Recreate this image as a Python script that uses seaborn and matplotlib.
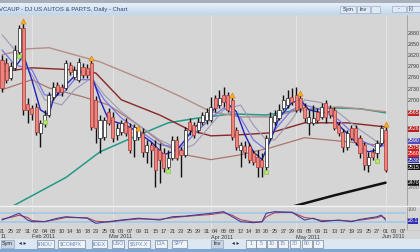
import matplotlib
matplotlib.use("Agg")
import matplotlib.pyplot as plt
import matplotlib.transforms as mtransforms
from matplotlib.colors import LinearSegmentedColormap
from matplotlib.lines import Line2D
from matplotlib.patches import Rectangle
import numpy as np
import seaborn as sns

sns.set_theme(style="white")
plt.rcParams['font.family'] = ['Liberation Sans', 'DejaVu Sans']

# ---------------- data ----------------
title = "VCAUP - DJ US AUTOS & PARTS, Daily - Chart"

# trading-day numbers (Jan 21 .. Jun 07 2011)
day_numbers = [21, 24, 25, 26, 27, 28, 31,
               1, 2, 3, 4, 7, 8, 9, 10, 11, 14, 15, 16, 17, 18, 22, 23, 24, 25, 28,
               1, 2, 3, 4, 7, 8, 9, 10, 11, 14, 15, 16, 17, 18, 21, 22, 23, 24, 25, 28, 29, 30, 31,
               1, 4, 5, 6, 7, 8, 11, 12, 13, 14, 15, 18, 19, 20, 21, 25, 26, 27, 28, 29,
               2, 3, 4, 5, 6, 9, 10, 11, 12, 13, 16, 17, 18, 19, 20, 23, 24, 25, 26, 27, 31,
               1, 2, 3, 6, 7]
month_label_pos = [0.5, 8, 26, 50, 70, 90]
month_labels = ["11", "Feb 2011", "Mar 2011", "Apr 2011", "May 2011", "Jun 2011"]
month_start_pos = [7, 26, 49, 69, 90]

opens = [2807, 2799, 2759, 2786, 2829, 2893, 2689, 2678, 2681, 2611, 2635, 2659, 2708, 2740, 2735,
         2732, 2794, 2762, 2754, 2789, 2786, 2799, 2700, 2598, 2600, 2668, 2654, 2606, 2614, 2641,
         2627, 2592, 2600, 2611, 2560, 2579, 2573, 2565, 2557, 2520, 2544, 2592, 2565, 2552, 2641,
         2632, 2619, 2641, 2646, 2646, 2705, 2686, 2713, 2713, 2700, 2619, 2565, 2576, 2576, 2557,
         2547, 2539, 2520, 2598, 2641, 2651, 2678, 2686, 2708, 2713, 2705, 2681, 2638, 2638, 2668,
         2654, 2692, 2678, 2673, 2632, 2614, 2573, 2624, 2624, 2598, 2579, 2525, 2560, 2557, 2584, 2619]
closes = [2732, 2754, 2791, 2834, 2893, 2673, 2673, 2662, 2614, 2638, 2659, 2713, 2735, 2721, 2721,
          2799, 2775, 2781, 2802, 2767, 2767, 2627, 2624, 2646, 2646, 2638, 2598, 2624, 2638, 2611,
          2565, 2627, 2619, 2560, 2579, 2565, 2512, 2539, 2517, 2544, 2592, 2544, 2552, 2619, 2619,
          2606, 2641, 2659, 2668, 2681, 2678, 2705, 2694, 2673, 2600, 2573, 2579, 2560, 2539, 2533,
          2520, 2520, 2598, 2654, 2659, 2673, 2700, 2705, 2694, 2673, 2678, 2651, 2654, 2651, 2646,
          2681, 2654, 2659, 2624, 2611, 2573, 2611, 2598, 2587, 2557, 2525, 2547, 2547, 2584, 2624, 2512]
highs = [2821, 2813, 2802, 2848, 2902, 2907, 2705, 2686, 2692, 2646, 2673, 2721, 2748, 2748, 2743,
         2807, 2802, 2791, 2813, 2799, 2797, 2807, 2711, 2659, 2654, 2678, 2668, 2638, 2646, 2651,
         2638, 2635, 2627, 2624, 2592, 2587, 2592, 2584, 2571, 2565, 2603, 2603, 2573, 2627, 2651,
         2641, 2651, 2668, 2678, 2708, 2713, 2727, 2735, 2721, 2708, 2627, 2587, 2590, 2584, 2565,
         2565, 2557, 2606, 2668, 2673, 2689, 2713, 2727, 2732, 2735, 2713, 2692, 2673, 2686, 2678,
         2692, 2700, 2686, 2681, 2641, 2622, 2619, 2632, 2632, 2606, 2587, 2560, 2571, 2592, 2632, 2627]
lows = [2721, 2746, 2754, 2781, 2821, 2659, 2638, 2646, 2606, 2573, 2627, 2654, 2700, 2713, 2711,
        2727, 2767, 2756, 2748, 2759, 2759, 2619, 2584, 2557, 2592, 2632, 2587, 2592, 2606, 2603,
        2557, 2547, 2592, 2547, 2530, 2520, 2466, 2477, 2506, 2506, 2539, 2539, 2493, 2547, 2606,
        2598, 2611, 2632, 2635, 2641, 2668, 2678, 2681, 2668, 2592, 2565, 2520, 2544, 2530, 2525,
        2493, 2493, 2512, 2592, 2632, 2646, 2673, 2678, 2686, 2668, 2668, 2641, 2606, 2632, 2638,
        2649, 2638, 2651, 2619, 2603, 2560, 2565, 2592, 2579, 2544, 2512, 2506, 2539, 2544, 2579, 2506]

# overlay lines (day index, price)
fast_x = [0, 2, 4, 5, 7, 9, 11, 12, 15, 18, 21, 23, 25, 29, 31, 35, 38, 41, 43, 45, 48, 50, 52, 55, 57,
          59, 61, 63, 65, 68, 70, 72, 75, 77, 79, 82, 84, 86, 88, 90]
fast_y = [2807, 2775, 2802, 2821, 2754, 2673, 2659, 2700, 2740, 2775, 2767, 2700, 2646, 2632, 2619,
          2587, 2552, 2565, 2592, 2624, 2651, 2678, 2700, 2668, 2606, 2560, 2539, 2592, 2651, 2692,
          2700, 2673, 2665, 2668, 2632, 2598, 2571, 2560, 2565, 2592]
mid_x = [0, 3, 7, 10, 14, 17, 21, 24, 28, 32, 37, 42, 45, 49, 52, 56, 59, 62, 64, 68, 71, 75, 79, 84, 88, 90]
mid_y = [2834, 2794, 2781, 2713, 2713, 2754, 2754, 2700, 2651, 2619, 2579, 2571, 2606, 2651, 2678,
         2651, 2592, 2565, 2619, 2673, 2686, 2673, 2646, 2592, 2571, 2579]
slow_x = [0, 3, 7, 10, 14, 17, 21, 24, 28, 32, 37, 42, 45, 49, 52, 56, 59, 62, 64, 68, 71, 75, 79, 84, 88, 90]
slow_y = [2875, 2834, 2767, 2700, 2686, 2727, 2759, 2713, 2668, 2632, 2592, 2565, 2579, 2632, 2673,
          2686, 2632, 2592, 2592, 2646, 2700, 2692, 2665, 2619, 2587, 2579]
upper_x = [0, 6, 11, 23, 35, 42, 49, 56, 63, 70, 79, 90]
upper_y = [2821, 2837, 2840, 2802, 2745, 2708, 2668, 2654, 2654, 2673, 2681, 2668]
middle_x = [0, 7, 16, 22, 28, 37, 44, 49, 56, 63, 71, 81, 90]
middle_y = [2775, 2786, 2781, 2772, 2700, 2659, 2619, 2603, 2606, 2611, 2638, 2638, 2627]
lower_x = [0, 7, 11, 19, 25, 32, 38, 43, 49, 56, 63, 71, 81, 90]
lower_y = [2727, 2754, 2732, 2708, 2686, 2632, 2579, 2552, 2539, 2552, 2571, 2598, 2587, 2576]
teal_x = [-1, 3, 15, 23, 31, 39, 46, 54, 62, 70, 78, 84, 90]
teal_y = [2395, 2417, 2491, 2560, 2600, 2638, 2651, 2662, 2659, 2673, 2678, 2676, 2665]
black_x = [64, 78, 90]
black_y = [2400, 2443, 2477]

orange_x = [5, 21, 32, 54, 70, 90]
orange_y = [2913, 2812, 2624, 2712, 2718, 2634]
green_x = [4, 10, 39, 62, 88]
green_y = [2818, 2640, 2508, 2505, 2535]

price_ticks = [2700, 2730, 2760, 2790, 2820, 2850, 2880]
value_tags = [(2665, "2665", "#b82a2a", "white"), (2622, "2626", "#b82020", "white"),
              (2590, "2590", "#5050b8", "white"), (2571, "2575", "#c02828", "white"),
              (2555, "2560", "#e02020", "white"), (2538, "2536", "#3232a8", "white"),
              (2518, "2515", "#151515", "white"), (2477, "2470", "#151515", "white")]

stoch_x = [0, 2, 4, 6, 7, 10, 13, 15, 20, 22, 25, 28, 32, 37, 40, 43, 49, 52, 54, 56, 59, 61, 62, 64,
           68, 71, 73, 75, 79, 82, 84, 88, 89, 90]
stoch_k = [33, 55, 78, 33, 22, 22, 45, 55, 45, 11, 22, 33, 45, 33, 55, 59, 78, 89, 55, 22, 15, 22, 78,
           89, 85, 33, 45, 22, 33, 22, 37, 55, 66, 33]
stoch_d = [40, 50, 65, 50, 30, 22, 38, 50, 48, 25, 20, 30, 40, 38, 48, 57, 70, 82, 65, 35, 20, 20, 55,
           82, 85, 50, 42, 30, 30, 26, 32, 48, 58, 45]

left_tabs = ["$INDU", "$COMPX", "$OEX", "USO", "$SPX.X", "DIA", "SPY"]
right_tabs = ["1", "5", "10", "15", "30", "60", "D"]

# ---------------- figure ----------------
W, H = 420.0, 252.0
BG = "#d5d5d5"
fig = plt.figure(figsize=(4.2, 2.52), dpi=100, facecolor=BG)


def fax(x0, y0, x1, y1):
    return fig.add_axes([x0 / W, 1 - y1 / H, (x1 - x0) / W, (y1 - y0) / H])


XL = (-0.47, 94.8)
ax = fax(0, 15, 406, 205)
ax2 = fax(0, 207, 406, 229)
for a in (ax, ax2):
    a.set_facecolor(BG)
    for s in a.spines.values():
        s.set_visible(False)
    a.set_xlim(*XL)
    a.set_xticks([])

ax.set_ylim(2417, 2928)
for m in month_start_pos:
    ax.axvline(m, color="#e6e6e6", lw=0.6, zorder=0)
    ax2.axvline(m, color="#e6e6e6", lw=0.6, zorder=0)


def line(a, xs, ys, color, lw, z=2):
    sns.lineplot(x=xs, y=ys, ax=a, color=color, linewidth=lw, sort=False,
                 estimator=None, legend=False, zorder=z)


line(ax, teal_x, teal_y, "#23998a", 1.1)
line(ax, upper_x, upper_y, "#b48e88", 1.0)
line(ax, middle_x, middle_y, "#8a2626", 1.0)
line(ax, lower_x, lower_y, "#a8776e", 0.9)
line(ax, black_x, black_y, "#111111", 1.8)
line(ax, slow_x, slow_y, "#9c9ab4", 0.8)
line(ax, mid_x, mid_y, "#7676e4", 0.9)
line(ax, fast_x, fast_y, "#2222bb", 1.0)

# candles
o = np.array(opens, dtype=float)
c = np.array(closes, dtype=float)
idx = np.arange(len(o))
up = c >= o
ax.vlines(idx, lows, highs, color="#111111", lw=1.0, zorder=3)
ax.bar(idx, np.abs(c - o), bottom=np.minimum(o, c), width=0.72,
       color=np.where(up, "#ffffff", "#f0847c"),
       edgecolor=np.where(up, "#222222", "#a83a36"), linewidth=0.5, zorder=4)

sns.scatterplot(x=orange_x, y=orange_y, ax=ax, color="#f7b020", marker="^", s=14,
                edgecolor="#e07a00", linewidth=0.4, zorder=6, legend=False)
sns.scatterplot(x=green_x, y=green_y, ax=ax, color="#b4e66a", marker="s", s=11,
                edgecolor="#7cc040", linewidth=0.4, zorder=6, legend=False)

ax.yaxis.tick_right()
ax.set_yticks(price_ticks)
ax.set_yticklabels([str(t) for t in price_ticks], fontsize=3.9, color="#3a3a3a")
ax.tick_params(axis="y", length=0, pad=1.2)
tr = mtransforms.blended_transform_factory(ax.transAxes, ax.transData)
for val, txt, bg, fg in value_tags:
    ax.text(1.003, val, txt, transform=tr, ha="left", va="center", fontsize=3.8, color=fg,
            clip_on=False, bbox=dict(boxstyle="square,pad=0.1", fc=bg, ec="none"))
ax.text(1.003, 2463, "2480", transform=tr, ha="left", va="center", fontsize=3.8,
        color="#707070", clip_on=False)

# stochastic panel
ax2.set_ylim(-27, 120)
ax2.set_yticks([])
ax2.axhline(80, color="#a9c9e8", lw=1.4, zorder=1)
ax2.axhline(20, color="#a9c9e8", lw=1.4, zorder=1)
line(ax2, stoch_x, stoch_d, "#b0405c", 0.75)
line(ax2, stoch_x, stoch_k, "#3a3a96", 0.75)
tr2 = mtransforms.blended_transform_factory(ax2.transAxes, ax2.transData)
ax2.text(1.003, 100, "100", transform=tr2, ha="left", va="center", fontsize=3.8,
         color="#606060", clip_on=False)
ax2.text(1.003, 28.1, "28.1", transform=tr2, ha="left", va="center", fontsize=3.8,
         color="white", clip_on=False, bbox=dict(boxstyle="square,pad=0.1", fc="#3030b0", ec="none"))

# date labels
trd = mtransforms.blended_transform_factory(ax2.transData, fig.transFigure)
for i in range(0, len(day_numbers), 2):
    fig.text(i, 1 - 231.5 / H, f"{day_numbers[i]:02d}", transform=trd, ha="center",
             va="center", fontsize=4.0, color="#3c3c3c")
for p, t in zip(month_label_pos, month_labels):
    fig.text(p - 0.9, 1 - 237 / H, t, transform=trd, ha="left", va="center",
             fontsize=4.0, color="#3c3c3c")

# separators
fig.add_artist(Line2D([406.5 / W] * 2, [1 - 15 / H, 1 - 229 / H], color="#9c9c9c", lw=0.6))
fig.add_artist(Line2D([0, 1], [1 - 206 / H] * 2, color="#f2f2f2", lw=1.0))
fig.add_artist(Line2D([0, 1], [1 - 229.5 / H] * 2, color="#c4c4c4", lw=0.5))

# title bar
top = fax(0, 0, 420, 15)
top.set_xlim(0, 420)
top.set_ylim(15, 0)
top.axis("off")
cmap_t = LinearSegmentedColormap.from_list("t", ["#e6eff9", "#c2d6ec"])
top.imshow(np.linspace(0, 1, 20)[:, None], cmap=cmap_t, extent=(0, 420, 15, 3), aspect="auto")
top.add_patch(Rectangle((0, 0), 420, 3, fc="#a9afb8", ec="none"))
top.set_ylim(15, 0)
top.text(-1, 9.5, title, fontsize=4.3, color="#334466", va="center", ha="left")
for x0, x1, t in [(340, 356, "Sym"), (357, 370, "Inv"), (371, 380, "")]:
    top.add_patch(Rectangle((x0, 5.5), x1 - x0, 7.5, fc="#dfe8f3", ec="#8ea3c0", lw=0.4))
    top.text((x0 + x1) / 2, 9.4, t, fontsize=4.0, color="#2a3a58", ha="center", va="center")
top.add_patch(Rectangle((392, 5.5), 14, 6.5, fc="#dfe8f3", ec="#8ea3c0", lw=0.4))
top.text(399, 8.8, "-", fontsize=4.0, color="#2a3a58", ha="center", va="center")
top.add_patch(Rectangle((407, 5.5), 14, 6.5, fc="#dfe8f3", ec="#8ea3c0", lw=0.4))
top.text(409, 8.8, "[-]", fontsize=3.8, color="#2a3a58", ha="left", va="center")

# bottom tab bar
bot = fax(0, 239, 420, 252)
bot.set_xlim(0, 420)
bot.set_ylim(252, 239)
bot.axis("off")
bot.add_patch(Rectangle((0, 239), 420, 13, fc="#dde7f2", ec="none"))
bot.add_patch(Rectangle((0, 249.5), 420, 2.5, fc="#7fa6d2", ec="none"))
bot.add_patch(Rectangle((0.5, 240), 13, 8, fc="#c9d3df", ec="#8a96a6", lw=0.4))
bot.text(7, 244, "Sym", fontsize=4.0, color="#1a2a44", ha="center", va="center")
bot.text(23, 244, "\u25c2 \u25b8", fontsize=4.0, color="#1a2a44", ha="center", va="center",
         family="DejaVu Sans")
lt_pos = [45, 71, 99, 118, 139, 161, 179]
lt_w = [17, 27, 15, 12, 22, 12, 15]
for xc, wdt, t in zip(lt_pos, lt_w, left_tabs):
    bot.add_patch(Rectangle((xc - wdt / 2, 240), wdt, 8, fc="#eef3fa", ec="#5b6b84", lw=0.4))
    bot.text(xc, 244, t, fontsize=3.8, color="#7088b8", ha="center", va="center")
bot.add_patch(Rectangle((211, 240), 12, 8, fc="#c9d3df", ec="#8a96a6", lw=0.4))
bot.text(217, 244, "Inv", fontsize=4.0, color="#1a2a44", ha="center", va="center")
bot.text(236, 244, "\u25c2 \u25b8", fontsize=4.0, color="#1a2a44", ha="center", va="center",
         family="DejaVu Sans")
rt_pos = [251, 261, 272, 283, 295, 307, 318]
for xc, t in zip(rt_pos, right_tabs):
    bot.add_patch(Rectangle((xc - 5, 240), 10, 8, fc="#eef3fa", ec="#5b6b84", lw=0.4))
    bot.text(xc, 244, t, fontsize=3.8, color="#7088b8", ha="center", va="center")

fig.savefig("out.png", dpi=100, facecolor=BG)
